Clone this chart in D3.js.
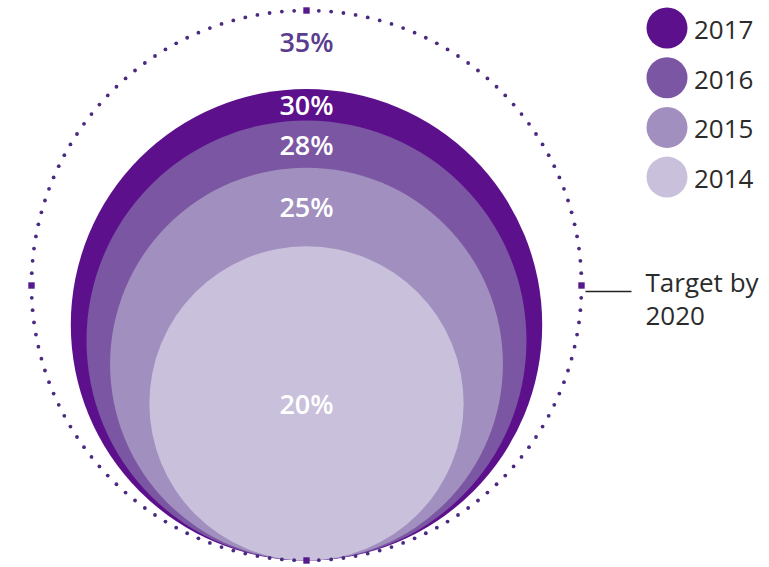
<!DOCTYPE html>
<html>
<head>
<meta charset="utf-8">
<script src="https://cdn.jsdelivr.net/npm/d3@7"></script>
<style>
  html, body { margin: 0; padding: 0; background: #ffffff; }
  svg { display: block; }
  text { font-family: "Open Sans", "Noto Sans", sans-serif; }
</style>
</head>
<body>
<svg id="chart" width="769" height="567"></svg>
<script>
// ---- data ----
const years = ["2017", "2016", "2015", "2014"];
const shares = [30, 28, 25, 20];
const colors = ["#5c108c", "#7b56a2", "#a18fbf", "#c9c0db"];
const targetValue = 35;
const targetLabel = ["Target by", "2020"];

// ---- layout ----
const svg = d3.select("#chart");
const cx = 306.5, baseY = 560.5;
const r = d3.scaleLinear().domain([0, targetValue]).range([0, 275]);

// solid circles, all tangent at the bottom
const g = svg.append("g");
const data = years.map((y, i) => ({ year: y, value: shares[i], color: colors[i] }));

g.selectAll("circle.year")
  .data(data)
  .join("circle")
  .attr("class", "year")
  .attr("cx", cx)
  .attr("cy", d => baseY - r(d.value))
  .attr("r", d => r(d.value))
  .attr("fill", d => d.color);

// dotted target circle
const R = r(targetValue);
const tcy = baseY - R;
const nDots = 140;
const dots = d3.range(nDots).map(k => k * 2 * Math.PI / nDots);
g.selectAll("circle.dot")
  .data(dots)
  .join("circle")
  .attr("class", "dot")
  .attr("cx", a => cx + R * Math.sin(a))
  .attr("cy", a => tcy - R * Math.cos(a))
  .attr("r", 1.9)
  .attr("fill", "#4a2a80");

// square markers at cardinal points
const cardinal = [0, Math.PI / 2, Math.PI, 3 * Math.PI / 2];
g.selectAll("rect.mark")
  .data(cardinal)
  .join("rect")
  .attr("class", "mark")
  .attr("x", a => cx + R * Math.sin(a) - 3.2)
  .attr("y", a => tcy - R * Math.cos(a) - 3.2)
  .attr("width", 6.4)
  .attr("height", 6.4)
  .attr("fill", "#561a8c");

// value labels
const tops = [baseY - 2 * R].concat(data.map(d => baseY - 2 * r(d.value)));
const labelVals = [targetValue].concat(shares);
const labelY = labelVals.map((v, i) => {
  if (i === labelVals.length - 1) return baseY - r(v);
  if (i === 0) return tops[0] + (tops[1] - tops[0]) * 0.4;
  return (tops[i] + tops[i + 1]) / 2;
});
g.selectAll("text.val")
  .data(labelVals)
  .join("text")
  .attr("class", "val")
  .attr("x", cx)
  .attr("y", (v, i) => labelY[i])
  .attr("text-anchor", "middle")
  .attr("dominant-baseline", "central")
  .attr("font-size", 27)
  .attr("font-weight", 600)
  .attr("fill", (v, i) => i === 0 ? "#5a3d8e" : "#ffffff")
  .text(v => v + "%");

// target annotation
const tx = cx + R;
svg.append("line")
  .attr("x1", tx + 4).attr("x2", tx + 50)
  .attr("y1", tcy + 6).attr("y2", tcy + 6)
  .attr("stroke", "#222").attr("stroke-width", 1.5);
svg.append("text")
  .attr("x", tx + 64)
  .attr("y", tcy + 6)
  .attr("font-size", 26)
  .attr("fill", "#2b2b2b")
  .selectAll("tspan")
  .data(targetLabel)
  .join("tspan")
  .attr("x", tx + 64)
  .attr("dy", (d, i) => i === 0 ? 0 : 33)
  .text(d => d);

// legend
const leg = svg.append("g").attr("transform", "translate(667,28)");
const items = leg.selectAll("g")
  .data(data)
  .join("g")
  .attr("transform", (d, i) => `translate(0,${i * 49.7})`);
items.append("circle")
  .attr("r", 20.5)
  .attr("fill", d => d.color);
items.append("text")
  .attr("x", 27)
  .attr("y", 1)
  .attr("dominant-baseline", "central")
  .attr("font-size", 26)
  .attr("fill", "#2b2b2b")
  .text(d => d.year);
</script>
</body>
</html>
